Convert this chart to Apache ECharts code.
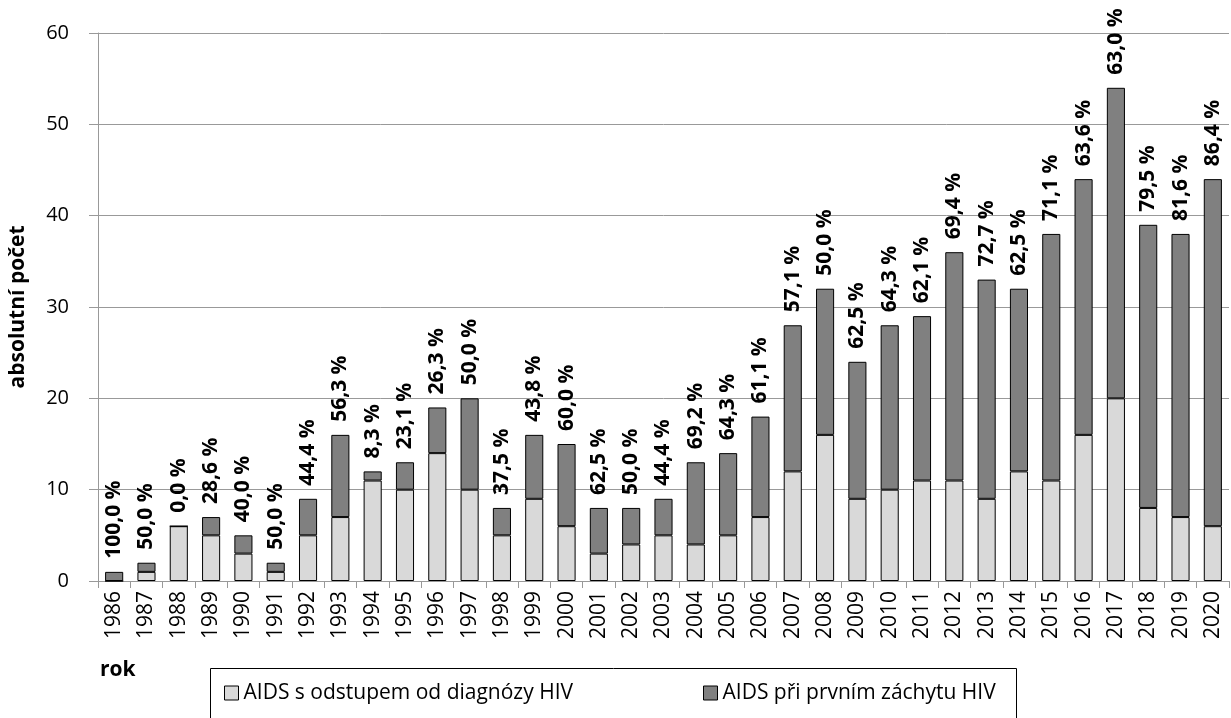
<!DOCTYPE html>
<html><head><meta charset="utf-8">
<script src="https://cdn.jsdelivr.net/npm/echarts@6/dist/echarts.min.js"></script>
<style>html,body{margin:0;padding:0;background:#fff}#c{width:1231px;height:718px}</style>
</head><body><div id="c"></div>
<script>
const years = ['1986','1987','1988','1989','1990','1991','1992','1993','1994','1995','1996','1997','1998','1999','2000','2001','2002','2003','2004','2005','2006','2007','2008','2009','2010','2011','2012','2013','2014','2015','2016','2017','2018','2019','2020'];
const delayed = [0,1,6,5,3,1,5,7,11,10,14,10,5,9,6,3,4,5,4,5,7,12,16,9,10,11,11,9,12,11,16,20,8,7,6];
const firstDetect = [1,1,0,2,2,1,4,9,1,3,5,10,3,7,9,5,4,4,9,9,11,16,16,15,18,18,25,24,20,27,28,34,31,31,38];
const pctLabels = ['100,0 %','50,0 %','0,0 %','28,6 %','40,0 %','50,0 %','44,4 %','56,3 %','8,3 %','23,1 %','26,3 %','50,0 %','37,5 %','43,8 %','60,0 %','62,5 %','50,0 %','44,4 %','69,2 %','64,3 %','61,1 %','57,1 %','50,0 %','62,5 %','64,3 %','62,1 %','69,4 %','72,7 %','62,5 %','71,1 %','63,6 %','63,0 %','79,5 %','81,6 %','86,4 %'];
const yTicks = {min:0, max:60, interval:10};
const seriesNames = ['AIDS s odstupem od diagnózy HIV','AIDS při prvním záchytu HIV'];

const FONT = '"Open Sans", "Noto Sans", sans-serif';
const chart = echarts.init(document.getElementById('c'), null, {renderer:'canvas'});
const legendText = {fontSize:21, color:'#000', fontFamily:FONT, lineHeight:22};
chart.setOption({
  animation:false,
  backgroundColor:'#fff',
  textStyle:{fontFamily:FONT},
  grid:{left:97, right:2, top:33, bottom:137},
  xAxis:{
    type:'category', data:years,
    axisLine:{lineStyle:{color:'#999', width:1}},
    axisTick:{show:true, length:7, lineStyle:{color:'#999'}},
    axisLabel:{rotate:90, color:'#000', fontSize:21, fontFamily:FONT, margin:10, interval:0}
  },
  yAxis:{
    type:'value', min:yTicks.min, max:yTicks.max, interval:yTicks.interval,
    name:'absolutní počet', nameLocation:'middle', nameGap:69,
    nameTextStyle:{fontSize:21, fontWeight:'bold', color:'#000', fontFamily:FONT},
    axisLine:{show:true, lineStyle:{color:'#999'}},
    axisTick:{show:true, length:9, lineStyle:{color:'#999'}},
    axisLabel:{color:'#000', fontSize:20, fontFamily:FONT, margin:29},
    splitLine:{lineStyle:{color:'#999', width:1}}
  },
  legend:[
    {left:224, top:682, padding:0, itemWidth:14, itemHeight:14, icon:'rect', textStyle:legendText,
     data:[{name:seriesNames[0], itemStyle:{color:'#d9d9d9', borderColor:'#000', borderWidth:1}}]},
    {left:703, top:682, padding:0, itemWidth:14, itemHeight:14, icon:'rect', textStyle:legendText,
     data:[{name:seriesNames[1], itemStyle:{color:'#808080', borderColor:'#000', borderWidth:1}}]}
  ],
  graphic:[
    {type:'rect', shape:{x:210.5, y:668.5, width:806, height:70}, style:{fill:'none', stroke:'#000', lineWidth:1}, silent:true},
    {type:'text', x:100, y:670, style:{text:'rok', font:'bold 21px '+FONT, fill:'#000', verticalAlign:'middle'}}
  ],
  series:[
    {name:seriesNames[0], type:'bar', stack:'a', data:delayed, barWidth:'56%',
     itemStyle:{color:'#d9d9d9', borderColor:'#000', borderWidth:1}},
    {name:seriesNames[1], type:'bar', stack:'a', data:firstDetect, barWidth:'56%',
     itemStyle:{color:'#808080', borderColor:'#000', borderWidth:1},
     label:{show:true, position:'top', rotate:90, align:'left', verticalAlign:'middle', distance:13,
       fontSize:21, fontWeight:'bold', color:'#000', fontFamily:FONT,
       formatter:p=>pctLabels[p.dataIndex]}}
  ]
});
</script></body></html>
